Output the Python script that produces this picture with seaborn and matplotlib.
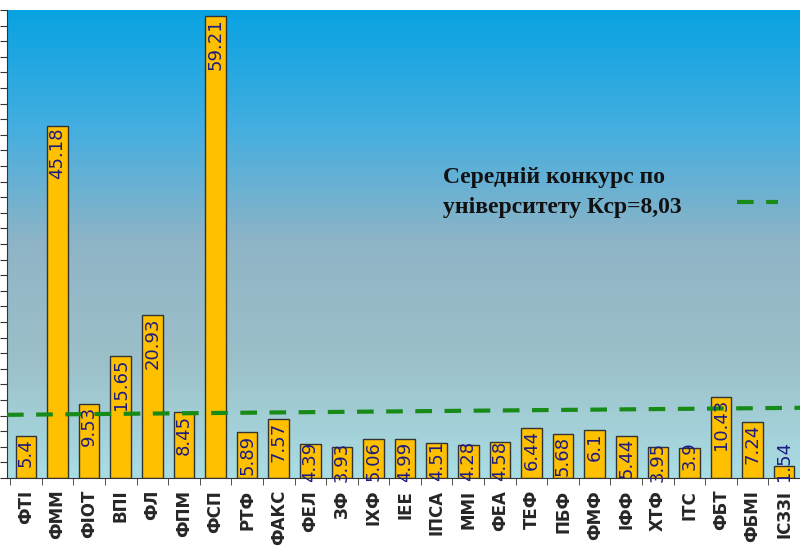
import matplotlib
matplotlib.use("Agg")
import matplotlib.pyplot as plt
import seaborn as sns
import numpy as np
import pandas as pd

categories = ["ФТІ","ФММ","ФІОТ","ВПІ","ФЛ","ФПМ","ФСП","РТФ","ФАКС","ФЕЛ","ЗФ","ІХФ","ІЕЕ","ІПСА","ММІ","ФЕА","ТЕФ","ПБФ","ФМФ","ІФФ","ХТФ","ІТС","ФБТ","ФБМІ","ІСЗЗІ"]
values = [5.4,45.18,9.53,15.65,20.93,8.45,59.21,5.89,7.57,4.39,3.93,5.06,4.99,4.51,4.28,4.58,6.44,5.68,6.1,5.44,3.95,3.9,10.43,7.24,1.54]
avg_line = [8.1, 9.0]
avg_text = "Середній конкурс по\nуніверситету Кср=8,03"

sns.set_style("white")
plt.rcParams['font.family'] = ['DejaVu Sans']
fig = plt.figure(figsize=(8, 5.5), dpi=100)
ax = fig.add_axes([7/800, 72/550, 793/800, 468/550])

df = pd.DataFrame({"cat": categories, "val": values})
sns.barplot(data=df, x="cat", y="val", color="#ffc000", edgecolor="#333333", linewidth=1, width=0.65, saturation=1, ax=ax, zorder=2)

from matplotlib.colors import LinearSegmentedColormap
cmap = LinearSegmentedColormap.from_list("bg", ["#a9dde4", "#9cc0c9", "#8fb4c6", "#43aee0", "#08a2e2"])
grad = np.linspace(0, 1, 256).reshape(-1, 1)
ax.imshow(grad, extent=[-0.6, len(values) - 0.5, 0, 60], origin="lower", aspect="auto", cmap=cmap, zorder=0)

ax.set_xlim(-0.6, len(values) - 0.5)
ax.set_ylim(0, 60)
ax.set_yticks(np.arange(0, 61, 2))
ax.set_yticklabels([])
ax.tick_params(axis="y", length=5, direction="out", left=True, color="#333333")
ax.tick_params(axis="x", length=5, bottom=False)
ax.set_xticks(np.arange(len(values)) - 0.5, minor=True)
ax.tick_params(axis="x", which="minor", length=5, bottom=True, color="#333333")
ax.set_xticklabels(categories, rotation=90, fontsize=12, fontweight="bold")
ax.set_xlabel(""); ax.set_ylabel("")
for s in ["top", "right"]:
    ax.spines[s].set_visible(False)
ax.spines["left"].set_color("#333333")
ax.spines["bottom"].set_color("#333333")

for i, v in enumerate(values):
    top = max(v, 5.0)
    ax.text(i, top - 0.3, f"{v:g}", rotation=90, ha="center", va="top", fontsize=13, color="#1c1c80", zorder=4)

ax.plot([-0.6, len(values) - 0.5], avg_line, ls=(0, (4, 3)), color="#178a17", lw=3, zorder=3)
ax.text(13.2, 36.6, avg_text, fontsize=17, fontweight="bold", family="Liberation Serif", color="#111111", va="center", linespacing=1.6)
ax.plot([22.5, 23.8], [35.4, 35.4], ls=(0, (4, 3)), color="#178a17", lw=3, zorder=3)

fig.savefig("out.png", dpi=100)
